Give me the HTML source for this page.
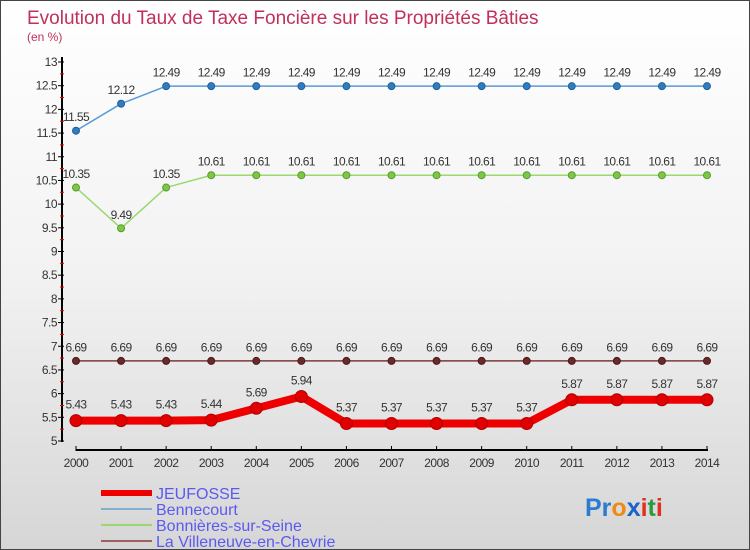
<!DOCTYPE html>
<html><head><meta charset="utf-8"><style>
body{margin:0}
#c{position:relative;width:748px;height:548px;border:1px solid #444;background:linear-gradient(#fff 0%,#f2f2f2 50%,#d6d6d6 100%);font-family:"Liberation Sans",sans-serif;overflow:hidden}
</style></head><body>
<div id="c">
<svg id="s" width="748" height="548" style="position:absolute;left:0;top:0" font-family="Liberation Sans, sans-serif">
<text x="26" y="23" font-size="19" fill="#c0305a">Evolution du Taux de Taxe Foncière sur les Propriétés Bâties</text>
<text x="26" y="40" font-size="12" fill="#c0305a">(en %)</text>
<g id="axes"></g><g id="series"></g><g id="legend"></g>
<text x="584" y="515" font-size="25" font-weight="bold"><tspan fill="#2a7cd0">Pr</tspan><tspan fill="#f08a10">o</tspan><tspan fill="#1a64c8">x</tspan><tspan fill="#e03020">i</tspan><tspan fill="#2a9a40">t</tspan><tspan fill="#e03020">i</tspan></text>
</svg>
</div>
<script>
const years=[2000,2001,2002,2003,2004,2005,2006,2007,2008,2009,2010,2011,2012,2013,2014];
const jeufosse=[5.43,5.43,5.43,5.44,5.69,5.94,5.37,5.37,5.37,5.37,5.37,5.87,5.87,5.87,5.87];
const bennecourt=[11.55,12.12,12.49,12.49,12.49,12.49,12.49,12.49,12.49,12.49,12.49,12.49,12.49,12.49,12.49];
const bonnieres=[10.35,9.49,10.35,10.61,10.61,10.61,10.61,10.61,10.61,10.61,10.61,10.61,10.61,10.61,10.61];
const villeneuve=[6.69,6.69,6.69,6.69,6.69,6.69,6.69,6.69,6.69,6.69,6.69,6.69,6.69,6.69,6.69];
const yTicks=[5,5.5,6,6.5,7,7.5,8,8.5,9,9.5,10,10.5,11,11.5,12,12.5,13];
const NS="http://www.w3.org/2000/svg";
const X=i=>75+i*(706-75)/(years.length-1);
const Y=v=>440-(v-5)*(440-61)/8;
function mk(p,t,a){const e=document.createElementNS(NS,t);for(const k in a)e.setAttribute(k,a[k]);p.appendChild(e);return e;}
const ax=document.getElementById('axes');
mk(ax,'line',{x1:61,y1:56,x2:61,y2:441,stroke:'#000','stroke-width':2});
mk(ax,'line',{x1:75,y1:449,x2:707,y2:449,stroke:'#000','stroke-width':2});
yTicks.forEach(v=>{
 mk(ax,'line',{x1:57,x2:63,y1:Y(v),y2:Y(v),stroke:'#000'});
 if(v<13)mk(ax,'line',{x1:59,x2:63,y1:Y(v+0.25),y2:Y(v+0.25),stroke:'#e00'});
 const t=mk(ax,'text',{x:56,y:Y(v)+4,'font-size':12,'text-anchor':'end',fill:'#333','letter-spacing':'-0.5'});
 t.textContent=String(v);
 
 
});
years.forEach((yr,i)=>{
 mk(ax,'line',{x1:X(i),x2:X(i),y1:445,y2:450,stroke:'#000'});
 const t=mk(ax,'text',{x:X(i),y:466,'font-size':12,'text-anchor':'middle',fill:'#333','letter-spacing':'-0.5'});
 t.textContent=yr;
 
 
});
const sg=document.getElementById('series');
function series(name,data,color,w,r,dot,dotStroke){
 const g=mk(sg,'g',{});
 
 
 mk(g,'polyline',{points:data.map((v,i)=>X(i)+','+Y(v)).join(' '),fill:'none',stroke:color,'stroke-width':w,'stroke-linejoin':'round'});
 data.forEach((v,i)=>{
  const c=mk(g,'circle',{cx:X(i),cy:Y(v),r:r,fill:dot,stroke:dotStroke});
  
  
  const t=mk(g,'text',{x:X(i),y:Y(v)-(r+6),'font-size':12,'text-anchor':'middle',fill:'#333','letter-spacing':'-0.6'});
  t.textContent=v.toFixed(2).replace(/0$/,'').replace(/\.$/,'');
  
  
 });
}
series('bennecourt',bennecourt,'#5a9ad8',1.5,3.5,'#2f7cc0','#1f5f9a');
series('bonnieres',bonnieres,'#9ad870',1.5,3.5,'#7cc845','#5a9a30');
series('villeneuve',villeneuve,'#7a3a3a',1.5,3.5,'#6a2a2a','#4a1a1a');
series('jeufosse',jeufosse,'#ee0000',8,6,'#e00000','#b00000');
const lg=document.getElementById('legend');
[['JEUFOSSE','#ee0000',6],['Bennecourt','#80b0d0',2],['Bonnières-sur-Seine','#9ad870',2],['La Villeneuve-en-Chevrie','#a06060',2]].forEach((d,i)=>{
 const y=492+i*16;
 const g=mk(lg,'g',{});
 
 
 mk(g,'line',{x1:100,x2:151,y1:y,y2:y,stroke:d[1],'stroke-width':d[2]});
 const t=mk(g,'text',{x:155,y:y+6,'font-size':16,fill:'#5a5af0'});
 t.textContent=d[0];
});
</script>
</body></html>
